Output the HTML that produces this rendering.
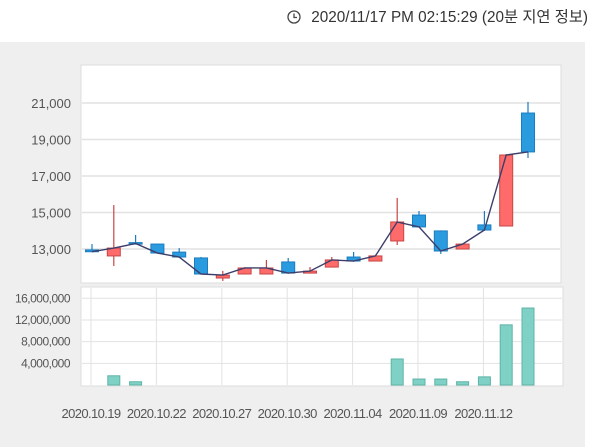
<!DOCTYPE html>
<html><head><meta charset="utf-8">
<style>
body{margin:0;width:600px;height:447px;background:#fff;overflow:hidden;font-family:"Liberation Sans","Noto Sans CJK KR",sans-serif;}
svg{display:block}
</style></head>
<body>
<svg id="chart" width="600" height="447" xmlns="http://www.w3.org/2000/svg">
<g>
<circle cx="294" cy="17" r="6" fill="none" stroke="#444" stroke-width="1.3"/>
<path d="M294 13.5V17.5H297" fill="none" stroke="#444" stroke-width="1.3"/>
<text x="588" y="22" text-anchor="end" font-size="15.3" fill="#333">2020/11/17 PM 02:15:29 (20분 지연 정보)</text>
</g>
<rect x="0" y="42" width="585" height="405" fill="#efefef"/>
<rect x="81" y="65" width="480" height="218" fill="#fff" stroke="#ddd"/>
<rect x="81" y="287" width="482" height="99" fill="#fff" stroke="#ddd"/>
<g id="grid"></g>
<g id="vol"></g>
<g id="candles"></g>
<g id="xlabels"></g>
</svg>
<script>
const dates=["2020.10.19","2020.10.20","2020.10.21","2020.10.22","2020.10.23","2020.10.26","2020.10.27","2020.10.28","2020.10.29","2020.10.30","2020.11.02","2020.11.03","2020.11.04","2020.11.05","2020.11.06","2020.11.09","2020.11.10","2020.11.11","2020.11.12","2020.11.13","2020.11.16"];
const openV=[12950,12620,13350,13270,12830,12510,11410,11630,11630,12290,11680,12010,12560,12340,13440,14860,13990,13000,14320,14260,20450];
const highV=[13270,15410,13770,13300,13050,12560,11800,12000,12400,12510,12010,12560,12840,12680,15800,15080,14020,13300,15080,18200,21060];
const lowV=[12830,12070,13280,12750,12520,11600,11250,11600,11600,11650,11650,11990,12300,12330,13220,14180,12730,12980,13990,14250,17990];
const closeV=[12850,13050,13300,12780,12560,11630,11570,11960,11960,11680,11790,12400,12340,12620,14480,14210,12890,13270,14040,18150,18320];
const volumeV=[0,1700000,600000,0,0,0,0,0,0,0,0,0,0,0,4800000,1100000,1100000,600000,1500000,11100000,14200000];
const priceTicks=[13000,15000,17000,19000,21000];
const volTicks=[4000000,8000000,12000000,16000000];
const labelIdx=[0,3,6,9,12,15,18];
const NS="http://www.w3.org/2000/svg";
const xs=i=>92+21.8*i;
const yp=v=>249-(v-13000)*36.5/2000;
const yv=v=>385-v*5.42/1e6;
function mk(tag,attrs,parent){const e=document.createElementNS(NS,tag);for(const k in attrs)e.setAttribute(k,attrs[k]);document.getElementById(parent).appendChild(e);return e;}
priceTicks.forEach(t=>{
 const l=mk('line',{x1:82,x2:560,y1:yp(t),y2:yp(t),stroke:'#e2e2e2','stroke-width':1.5},'grid');
 
 
 const tx=mk('text',{x:71,y:yp(t)+5,'text-anchor':'end','font-size':13,fill:'#555'},'grid');
 tx.textContent=t.toLocaleString('en-US');
 
 
});
volTicks.forEach(t=>{
 const l=mk('line',{x1:82,x2:562,y1:yv(t),y2:yv(t),stroke:'#e2e2e2','stroke-width':1},'grid');
 
 
 const tx=mk('text',{x:70,y:yv(t)+4,'text-anchor':'end','font-size':12,fill:'#555','letter-spacing':'-0.5'},'grid');
 tx.textContent=t.toLocaleString('en-US');
 
 
});
labelIdx.forEach(i=>{
 const l=mk('line',{x1:xs(i)-1,x2:xs(i)-1,y1:288,y2:385,stroke:'#e2e2e2'},'grid');
 
 
 const tx=mk('text',{x:xs(i)-1,y:418,'text-anchor':'middle','font-size':13,fill:'#555','letter-spacing':'-0.6'},'xlabels');
 tx.textContent=dates[i];
 
 
});
volumeV.forEach((v,i)=>{
 if(v<=0)return;
 const b=mk('rect',{x:xs(i)-6,y:yv(v),width:12,height:385-yv(v),fill:'#7fd1c5',stroke:'#5fb3a7'},'vol');
 
 
});
dates.forEach((d,i)=>{
 const up=closeV[i]>=openV[i];
 const col=up?'#ff6b6b':'#2b9be0', st=up?'#c94444':'#1a7dc0';
 const w=mk('line',{x1:xs(i),x2:xs(i),y1:yp(highV[i]),y2:yp(lowV[i]),stroke:st,'stroke-width':1.2},'candles');
 
 
 const top=yp(Math.max(openV[i],closeV[i])),bot=yp(Math.min(openV[i],closeV[i]));
 const r=mk('rect',{x:xs(i)-6.5,y:top,width:13,height:Math.max(1.5,bot-top),fill:col,stroke:st,'stroke-width':1},'candles');
 
 
});
const pts=closeV.map((c,i)=>xs(i)+','+yp(c)).join(' ');
const pl=mk('polyline',{points:pts,fill:'none',stroke:'#3d3f6b','stroke-width':1.4},'candles');


</script>
</body></html>
